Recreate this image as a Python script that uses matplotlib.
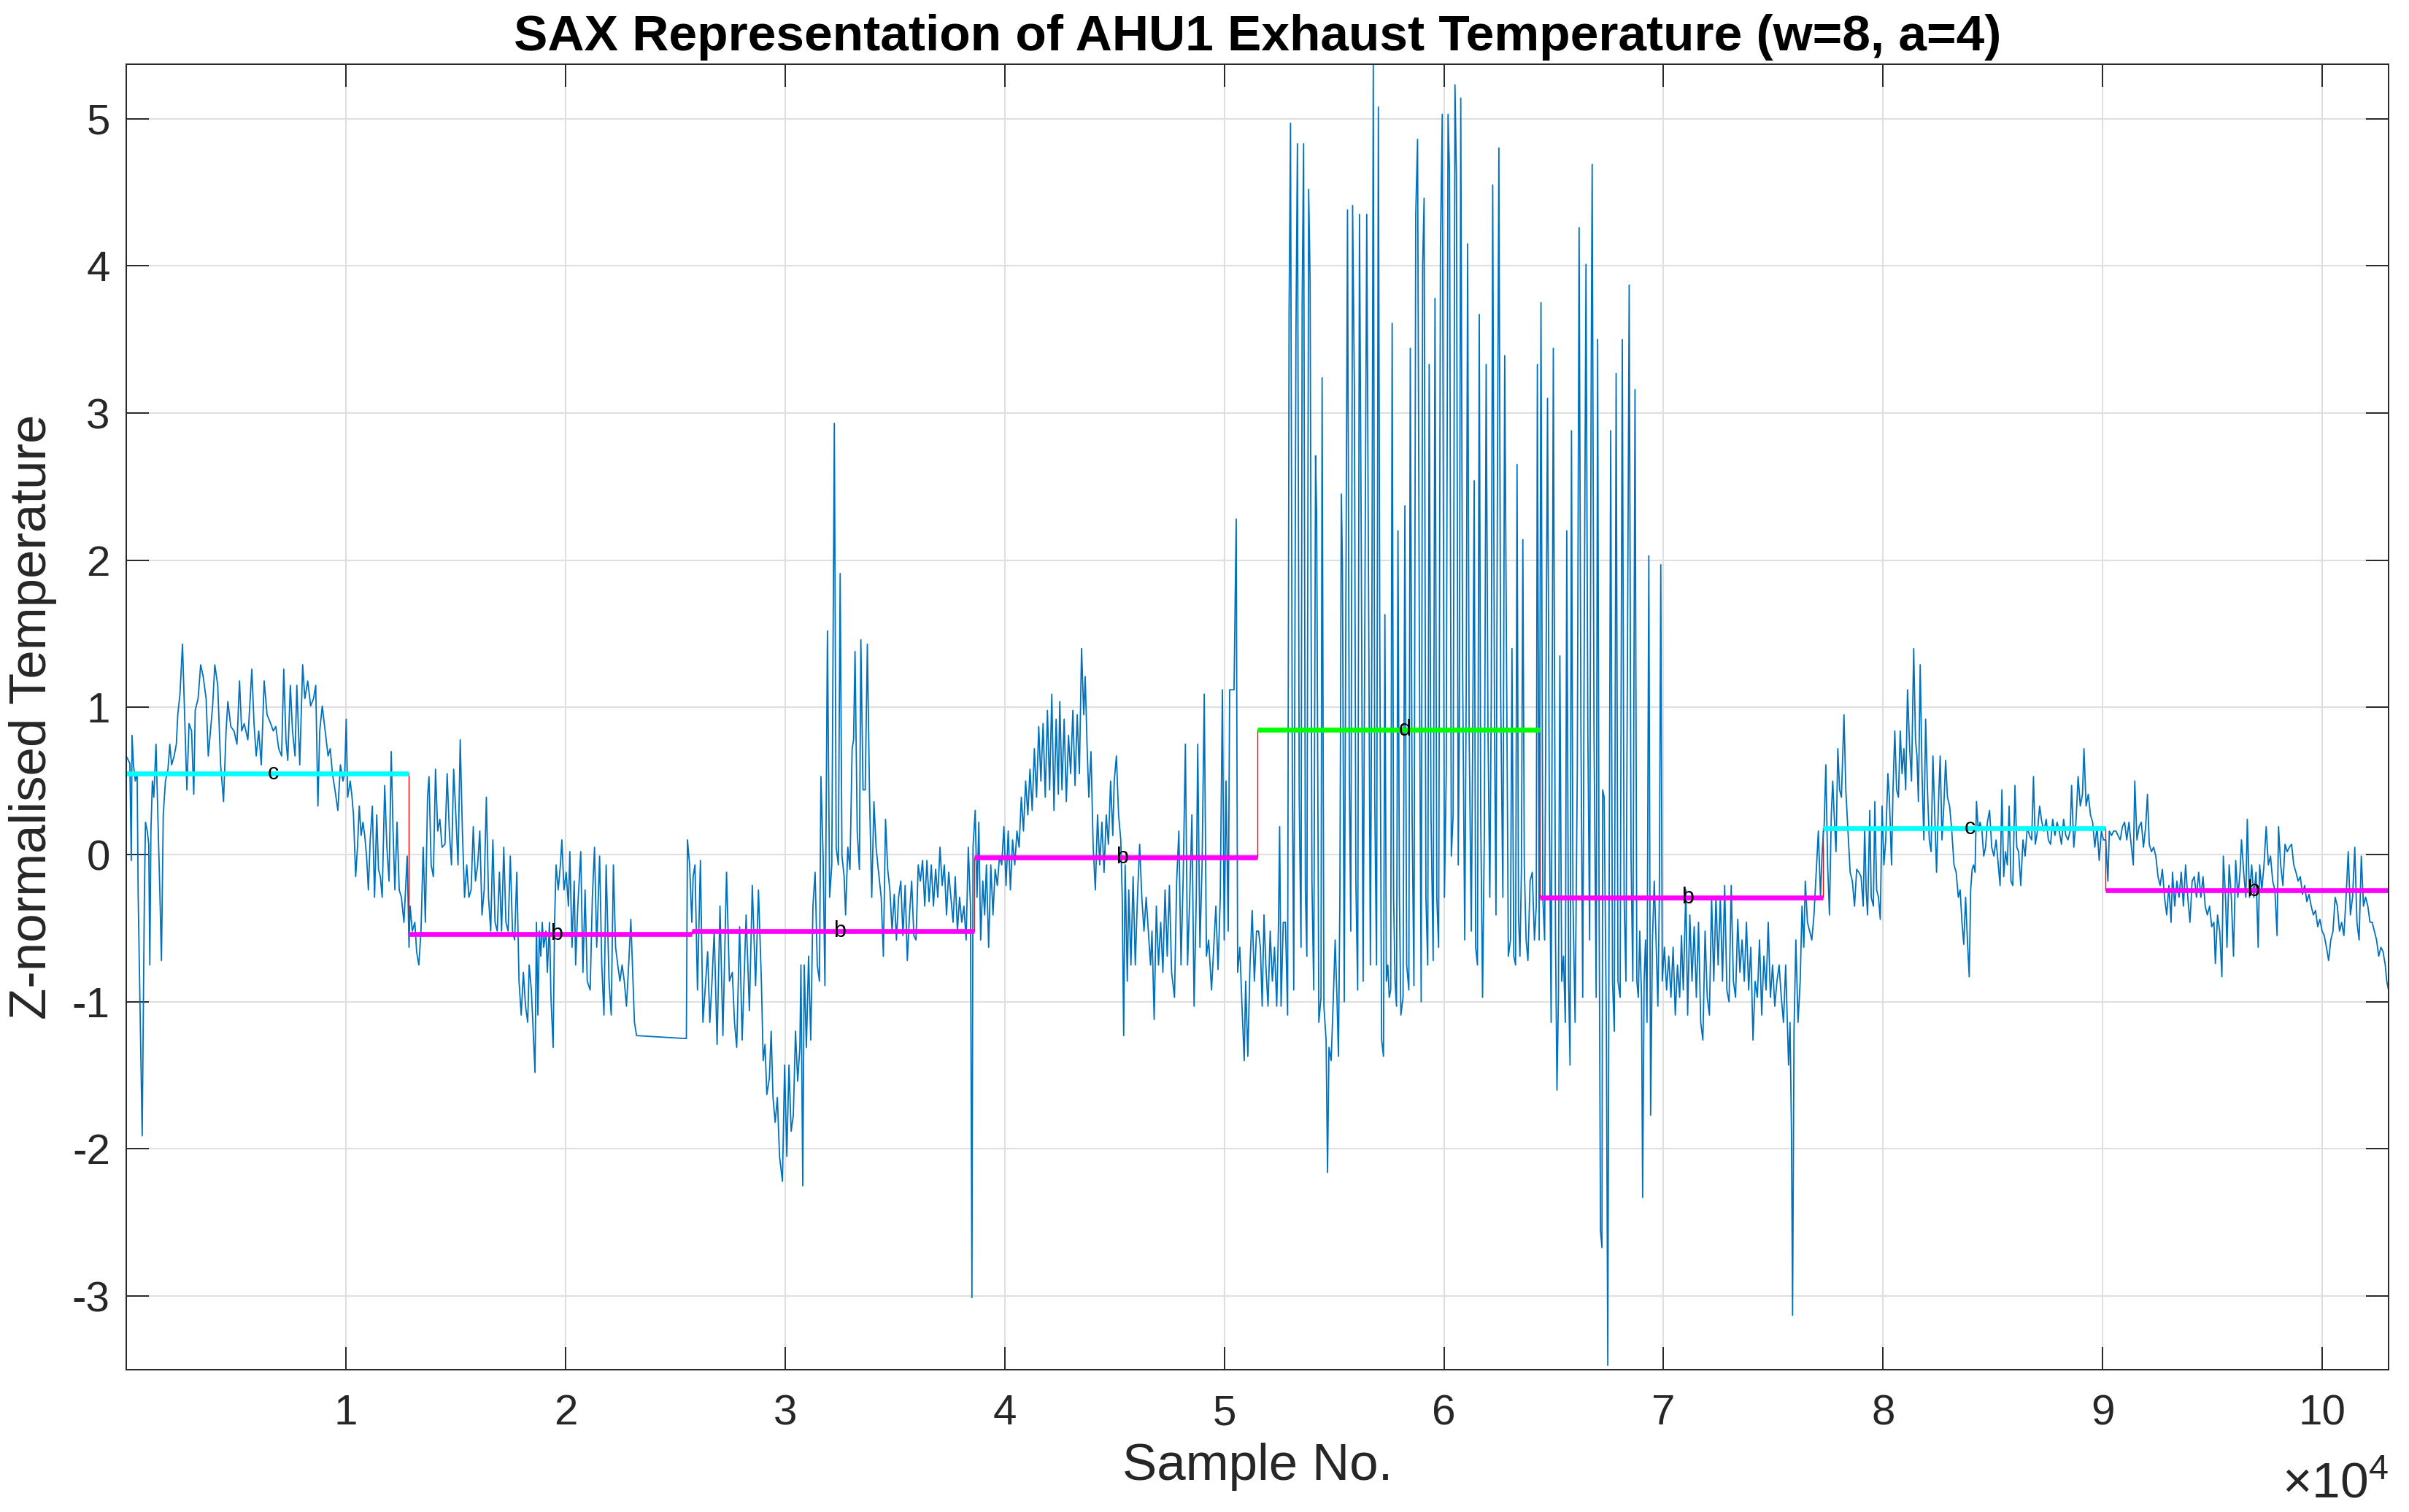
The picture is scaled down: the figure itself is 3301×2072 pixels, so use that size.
import numpy as np
import matplotlib
matplotlib.use("Agg")
import matplotlib.pyplot as plt

# (sample no., z-normalised temperature) turning points
trace_a = [
    (0, 0.67), (100, 0.64), (165, 0.62), (230, -0.04), (265, 0.81), (330, 0.61), (413, 0.50),
    (496, 0.55), (545, -0.29), (628, -1.03), (727, -1.91), (826, -0.29), (876, 0.22), (959, 0.16),
    (1025, 0.07), (1074, -0.75), (1124, 0.16), (1190, 0.50), (1256, 0.39), (1355, 0.75), (1438, 0.27),
    (1537, -0.29), (1603, -0.72), (1686, 0.27), (1785, 0.50), (1901, 0.58), (1984, 0.75), (2066, 0.61),
    (2182, 0.67), (2281, 0.75), (2347, 0.95), (2446, 1.09), (2562, 1.43), (2645, 1.01), (2761, 0.44),
    (2860, 0.89), (2975, 0.84), (3075, 0.41), (3141, 0.98), (3273, 1.06), (3389, 1.29), (3504, 1.21),
    (3637, 1.06), (3736, 0.67), (3835, 0.84), (3934, 1.01), (4033, 1.29), (4166, 1.15), (4298, 0.61),
    (4430, 0.36), (4546, 0.84), (4628, 1.04), (4761, 0.87), (4909, 0.84), (5042, 0.75), (5157, 1.18),
    (5257, 0.84), (5372, 0.89), (5538, 0.78), (5719, 1.26), (5819, 0.89), (5918, 0.67), (6033, 0.84),
    (6149, 0.61), (6281, 1.18), (6414, 0.95), (6579, 0.89), (6695, 0.84), (6810, 0.87), (6943, 0.72),
    (7075, 0.67), (7174, 1.26), (7273, 0.78), (7356, 0.64), (7472, 1.15), (7571, 0.84), (7686, 0.67),
    (7769, 1.15), (7901, 0.61), (8034, 1.29), (8133, 1.06), (8265, 1.18), (8397, 1.01), (8529, 1.06),
    (8629, 1.15), (8728, 0.33), (8810, 0.84), (8926, 1.01), (9058, 0.84), (9191, 0.67), (9290, 0.72),
    (9389, 0.55), (9505, 0.44), (9637, 0.30), (9753, 0.61), (9868, 0.50), (9951, 0.55), (10017, 0.92),
    (10083, 0.39), (10199, 0.50), (10282, 0.39), (10348, 0.27), (10447, -0.15), (10530, 0.05),
    (10612, 0.33), (10695, 0.13), (10778, 0.22), (10860, 0.13), (10943, -0.01), (11026, -0.24),
    (11108, 0.10), (11207, 0.33), (11307, -0.29), (11406, 0.27), (11488, -0.10), (11571, -0.15),
    (11654, -0.29), (11769, 0.47), (11869, 0.05), (11968, -0.18), (12067, 0.70), (12150, 0.16),
    (12232, -0.24), (12331, 0.22), (12431, -0.24), (12530, -0.29), (12645, -0.46), (12728, -0.21),
    (12794, -0.01), (12877, -0.63), (12926, -0.35), (13026, -0.52), (13141, -0.46), (13224, -0.66),
    (13323, -0.75), (13422, -0.52), (13522, 0.05), (13621, -0.46), (13720, 0.39), (13786, 0.53),
    (13885, -0.07), (13984, -0.15), (14084, 0.58), (14183, 0.16), (14282, 0.24), (14381, 0.05),
    (14513, 0.07), (14613, 0.55), (14712, 0.16), (14811, -0.07), (14910, 0.58), (15009, 0.27),
    (15108, -0.07), (15208, 0.78), (15307, 0.16), (15406, -0.29), (15505, -0.07), (15604, -0.29),
    (15704, -0.24), (15803, 0.19), (15902, -0.18), (16001, -0.07), (16100, 0.16), (16199, -0.41),
    (16299, -0.24), (16398, 0.39), (16497, -0.29), (16596, -0.52), (16695, 0.10), (16794, -0.46),
    (16894, -0.52), (16993, -0.12), (17092, -0.52), (17191, 0.05), (17290, -0.46), (17390, -0.52),
    (17489, -0.01), (17588, -0.52), (17687, -0.58), (17786, -0.12), (17886, -0.86), (17985, -1.09),
    (18084, -0.80), (18183, -1.03), (18282, -1.14), (18348, -0.75), (18447, -0.92), (18514, -1.14),
    (18613, -1.48), (18679, -0.46), (18745, -1.09), (18811, -0.52), (18877, -0.69), (18943, -0.46),
    (19010, -0.63), (19109, -0.52), (19175, -0.80), (19274, -0.46), (19340, -0.97), (19439, -1.31),
    (19505, -0.46), (19572, -0.07), (19671, -0.24), (19770, -0.07), (19836, 0.10), (19935, -0.24),
    (20034, -0.12), (20134, -0.35), (20200, 0.02), (20299, -0.63), (20398, -0.18), (20464, -0.75),
    (20563, -0.35), (20696, 0.02), (20795, -0.80), (20894, -0.24), (20993, -0.86), (21125, -0.92),
    (21225, -0.29), (21324, 0.05), (21423, -0.63), (21555, -0.01), (21654, -0.75), (21753, -1.09),
    (21853, -0.07), (21985, -0.86), (22084, -1.09), (22183, -0.07), (22283, -0.63), (22382, -0.75),
    (22481, -0.86), (22580, -0.75), (22679, -0.86), (22778, -1.03), (22878, -0.75), (22977, -0.44),
    (23076, -0.86), (23142, -1.14), (23241, -1.23), (25506, -1.25), (25555, 0.10), (25655, -0.07),
    (25754, -0.46),
]

trace_b = [
    (25814, -0.15), (25897, -0.07), (26012, -0.92), (26145, -0.04), (26260, -1.14), (26359, -0.92),
    (26475, -0.66), (26574, -1.14), (26674, -0.86), (26773, -0.52), (26905, -1.29), (27037, -0.35),
    (27169, -1.23), (27335, -0.12), (27467, -0.86), (27599, -0.80), (27698, -1.14), (27798, -1.31),
    (27930, -0.49), (28046, -1.26), (28227, -0.41), (28376, -1.06), (28508, -0.21), (28657, -0.89),
    (28789, -0.24), (28922, -0.86), (29004, -1.40), (29087, -1.29), (29170, -1.63), (29285, -1.52),
    (29368, -1.20), (29451, -1.65), (29550, -1.82), (29649, -1.65), (29748, -2.05), (29880, -2.22),
    (29980, -1.43), (30079, -2.05), (30178, -1.43), (30277, -1.88), (30376, -1.77), (30475, -1.20),
    (30575, -1.54), (30674, -1.31), (30723, -0.75), (30806, -2.25), (30872, -0.75), (30971, -1.31),
    (31071, -0.69), (31170, -1.26), (31269, -0.35), (31368, -0.12), (31467, -0.75), (31566, -0.86),
    (31633, 0.53), (31732, -0.01), (31815, -0.89), (31930, 1.52), (32029, -0.29), (32128, -0.07),
    (32244, 2.93), (32327, 0.05), (32426, -0.07), (32509, 1.91), (32591, -0.01), (32690, -0.15),
    (32757, -0.41), (32856, 0.05), (32955, -0.10), (33054, 0.72), (33120, 0.78), (33186, 1.38),
    (33286, 0.16), (33385, -0.10), (33451, 1.46), (33550, 0.44), (33649, 0.44), (33748, 1.43),
    (33848, 0.39), (33947, -0.29), (34046, 0.36), (34145, 0.05), (34244, -0.10), (34377, -0.29),
    (34476, -0.69), (34575, 0.24), (34674, -0.10), (34773, -0.24), (34872, -0.52), (34972, -0.27),
    (35071, -0.58), (35170, -0.29), (35269, -0.18), (35368, -0.55), (35468, -0.21), (35567, -0.72),
    (35666, -0.41), (35765, -0.18), (35864, -0.55), (35963, -0.58), (36063, -0.07), (36162, -0.18),
    (36261, -0.04), (36360, -0.35), (36459, -0.04), (36559, -0.32), (36658, -0.07), (36757, -0.35),
    (36856, -0.10), (36955, -0.29), (37054, 0.05), (37154, -0.21), (37253, -0.07), (37352, -0.41),
    (37451, -0.12), (37550, -0.29), (37650, -0.46), (37749, -0.15), (37848, -0.52), (37947, -0.29),
    (38046, -0.46), (38145, -0.35), (38245, -0.58), (38344, 0.05), (38443, -0.35), (38509, -3.01),
    (38559, 0.05), (38658, 0.30), (38741, -0.29), (38823, 0.22), (38906, -0.58), (39005, -0.18),
    (39088, -0.41), (39170, -0.07), (39270, -0.63), (39369, -0.07), (39468, -0.41), (39567, -0.10),
    (39666, -0.21), (39765, -0.01), (39865, -0.07), (39964, 0.19), (40063, -0.21), (40162, 0.16),
    (40261, -0.24), (40360, 0.10), (40460, -0.07), (40559, 0.16), (40658, 0.05), (40757, 0.39),
    (40856, 0.16), (40955, 0.50), (41055, 0.27), (41154, 0.58), (41253, 0.30), (41352, 0.72),
    (41451, 0.39), (41551, 0.87), (41650, 0.50), (41749, 0.89), (41848, 0.39), (41947, 0.98),
    (42047, 0.44), (42146, 1.09), (42245, 0.30), (42344, 0.92), (42443, 0.41), (42509, 1.04),
    (42609, 0.44), (42708, 0.92), (42807, 0.36), (42906, 0.81), (43005, 0.55), (43105, 0.98),
    (43204, 0.47), (43303, 0.95), (43402, 0.55), (43501, 1.40), (43601, 0.95), (43667, 1.21),
    (43766, 0.67), (43832, 0.39), (43931, 0.70), (44030, 0.05), (44129, -0.24), (44229, 0.27),
    (44328, -0.07), (44427, 0.22), (44526, -0.12), (44625, 0.27), (44724, 0.07), (44824, 0.50),
    (44923, 0.13), (44989, 0.50), (45088, 0.67), (45187, 0.27), (45287, 0.10), (45353, -0.29),
    (45419, -1.23), (45485, -0.07), (45584, -0.86), (45650, -0.24), (45749, -0.75), (45848, -0.15),
    (45948, -0.75), (46047, -0.29), (46146, 0.07), (46245, -0.29), (46344, -0.52), (46443, -0.29),
    (46543, -0.52), (46642, -0.75), (46708, -0.52), (46807, -1.12), (46906, -0.35), (47005, -0.75),
    (47105, -0.46), (47204, -0.80), (47303, -0.24), (47402, -0.69), (47501, -0.21), (47601, -0.80),
    (47733, -0.97), (47832, -0.18), (47931, 0.16), (48030, -0.75), (48130, -0.15), (48229, 0.75),
    (48328, -0.75), (48427, -0.29), (48526, 0.27), (48625, -1.03), (48725, -0.29), (48791, 0.75),
    (48890, -0.63), (48989, -0.07), (49088, 1.09), (49187, -0.69), (49287, -0.58), (49419, -0.92),
    (49518, -0.63), (49617, -0.35), (49716, -0.78), (49816, -0.29), (49915, 1.12), (49997, -0.58),
    (50080, 0.50), (50179, -0.52), (50245, 1.12), (50444, 1.12), (50543, 2.28), (50609, -0.80),
    (50708, -0.63), (50807, -1.03), (50907, -1.40), (50973, -0.86), (51072, -1.37), (51171, -0.75),
    (51270, -0.38), (51370, -0.86), (51469, -0.52),
]

trace_c = [
    (51561, -0.52), (51644, -0.63), (51726, -1.03), (51809, -0.41), (51892, -0.75), (51991, -1.03),
    (52090, -0.52), (52189, -0.86), (52288, -0.63), (52388, -1.03), (52470, -0.46), (52520, 0.19),
    (52586, -1.03), (52685, -0.46), (52784, -0.46), (52883, -1.09), (52950, 3.67), (53016, 4.97),
    (53098, 0.55), (53164, -0.92), (53264, 3.56), (53330, 4.83), (53412, 0.39), (53495, -0.63),
    (53545, 3.73), (53611, 4.83), (53693, -0.24), (53760, -0.69), (53842, 4.52), (53908, 3.90),
    (53991, -0.18), (54074, -0.92), (54156, 2.71), (54206, 2.31), (54305, -1.14), (54404, -0.97),
    (54454, 3.24), (54536, -1.03), (54636, -1.26), (54702, -2.16), (54768, -1.31), (54867, -1.40),
    (54966, -0.97), (55049, -0.58), (55131, -0.97), (55198, -1.37), (55264, -0.29), (55330, 2.45),
    (55380, 1.97), (55462, -1.00), (55545, 1.97), (55611, 4.38), (55694, 0.55), (55760, -0.52),
    (55843, 4.41), (55925, 3.16), (55991, -0.18), (56074, -0.92), (56156, 4.35), (56239, 2.08),
    (56322, -0.86), (56404, 1.74), (56487, 4.35), (56570, 1.80), (56652, -0.75), (56718, 1.40),
    (56785, 5.37), (56851, 0.39), (56933, -0.75), (57016, 5.08), (57082, 1.40), (57165, -1.26),
    (57248, -1.37), (57313, 1.63), (57380, -0.86), (57446, -0.75), (57512, -0.97), (57578, -0.92),
    (57644, 3.61), (57710, -0.29), (57776, -0.86), (57842, -1.03), (57909, 2.20), (57975, -0.29),
    (58041, -1.09), (58140, -0.97), (58223, 2.37), (58305, -0.75), (58404, -0.92), (58470, 3.44),
    (58553, 0.27), (58636, -0.89), (58718, 4.35), (58801, 4.86), (58884, 1.40), (58966, -1.00),
    (59033, 4.01), (59099, 4.46), (59181, -0.29), (59264, -0.75), (59330, 3.33), (59413, 0.27),
    (59512, -0.72), (59595, 3.78), (59677, -0.29), (59760, -0.63), (59843, 4.12), (59925, 5.03),
    (60024, -0.29), (60107, 0.55), (60190, 5.03), (60256, 4.63), (60338, -0.01), (60421, 0.27),
    (60504, 5.23), (60570, 4.63), (60653, -0.07), (60702, 0.84), (60768, 5.14), (60851, 1.29),
    (60950, -0.58), (61016, 1.12), (61082, 4.15), (61149, 0.84), (61248, -0.52), (61314, 0.84),
    (61380, 2.54), (61446, -0.63), (61529, -0.75), (61611, 3.67), (61677, 0.27), (61760, -0.97),
    (61843, 0.16), (61925, 3.33), (62008, 0.84), (62091, -0.29), (62157, 1.06), (62223, 4.55),
    (62306, 0.84), (62372, -0.41), (62438, 2.54), (62504, 4.80), (62587, 1.06), (62686, -0.29),
    (62769, 3.39), (62851, 1.40), (62934, -0.69), (63033, -0.58), (63099, 1.40), (63182, -0.69),
    (63265, -0.75), (63331, 2.65), (63397, -0.41), (63463, -0.69), (63529, -0.12), (63595, 2.14),
    (63661, -0.07), (63744, -0.58), (63826, -0.72), (63925, -0.18), (64025, -0.12), (64124, -0.58),
    (64206, -0.35), (64256, 3.33), (64339, -0.58), (64421, 3.75), (64504, -0.29), (64587, -0.58),
    (64719, 3.10), (64802, 0.27), (64884, -1.14), (64983, 3.44), (65083, -0.58), (65149, -1.60),
    (65215, -0.97), (65281, 1.35), (65364, -0.86), (65446, -0.69), (65529, -1.14), (65595, 2.20),
    (65678, -0.86), (65744, -1.43), (65810, 2.88), (65876, -0.29), (65975, -1.14), (66074, 0.55),
    (66157, 4.26), (66240, 0.84), (66322, -0.97), (66405, 1.97), (66471, 4.01), (66554, 0.84),
    (66636, -0.58), (66703, 3.10), (66752, 4.69), (66835, 0.84), (66934, -0.97), (67000, 3.50),
    (67066, -0.29), (67132, -2.56), (67198, -2.67), (67231, 0.44), (67297, 0.39), (67397, -1.14),
    (67463, -3.47), (67512, -0.86), (67595, 2.88), (67678, -0.86), (67760, -1.20), (67843, 3.27),
    (67926, -0.86), (68025, -0.97), (68124, 3.50), (68207, -0.29), (68289, -0.86), (68372, 1.74),
    (68438, 3.87), (68521, -0.01), (68603, -0.86), (68703, 3.16), (68786, -0.86), (68852, -0.97),
    (68918, -0.52), (69000, -0.97), (69050, -2.33), (69116, -0.86), (69182, -0.58), (69248, -1.14),
    (69331, 2.03), (69413, -1.77), (69496, -0.58), (69579, -0.18), (69661, -0.58), (69744, -1.03),
    (69810, -0.29), (69876, 1.97), (69943, -0.86), (70042, -0.63), (70141, -0.92), (70240, -0.69),
    (70339, -0.97), (70438, -0.63), (70537, -1.09), (70637, -0.75), (70736, -0.97), (70818, -0.55),
    (70901, -0.92), (71017, -0.24), (71099, -1.09), (71198, -0.41), (71298, -0.86), (71397, -0.49),
    (71496, -0.97), (71595, -0.46), (71694, -1.14), (71793, -1.26), (71893, -0.52), (71992, -0.97),
    (72091, -1.09), (72190, -0.29), (72289, -0.86), (72389, -0.29), (72488, -0.75), (72587, -0.29),
    (72686, -0.86), (72785, -0.21), (72885, -0.92), (72984, -1.00), (73083, -0.21), (73182, -0.86),
    (73281, -0.97), (73381, -0.44), (73480, -0.80), (73579, -0.58), (73678, -0.86), (73777, -0.46),
    (73877, -0.92), (73976, -0.63), (74075, -1.26), (74174, -0.86), (74273, -0.97), (74372, -0.58),
    (74472, -1.09), (74571, -0.69), (74670, -0.92), (74769, -0.46), (74868, -0.97), (74967, -0.75),
    (75067, -1.03), (75166, -0.86), (75265, -0.75), (75364, -0.97), (75463, -1.14), (75563, -0.75),
    (75629, -1.09), (75695, -1.43), (75761, -1.14), (75827, -1.88), (75877, -3.13), (75943, -1.20),
    (76026, -0.58), (76125, -1.14), (76224, -0.86), (76307, -0.35), (76390, -0.63), (76456, -0.18),
    (76555, -0.46), (76654, -0.52), (76753, -0.58), (76852, -0.41), (76952, -0.12), (77051, 0.16),
    (77150, -0.29), (77216, -0.01), (77282, 0.16),
]

trace_d = [
    (77309, 0.16), (77392, 0.61), (77474, -0.07), (77557, -0.41), (77640, 0.27), (77706, 0.50),
    (77772, 0.27), (77855, 0.02), (77937, 0.72), (78020, 0.44), (78102, 0.39), (78218, 0.95),
    (78301, 0.44), (78400, 0.16), (78499, -0.12), (78598, -0.18), (78698, -0.35), (78797, -0.10),
    (78896, -0.12), (78995, -0.15), (79094, -0.35), (79160, 0.19), (79226, -0.24), (79293, -0.41),
    (79392, 0.30), (79458, -0.29), (79557, -0.35), (79623, 0.36), (79706, -0.24), (79789, -0.29),
    (79871, -0.44), (79954, 0.33), (80036, -0.07), (80119, 0.10), (80218, 0.55), (80284, 0.39),
    (80383, -0.07), (80450, 0.44), (80532, 0.84), (80615, 0.44), (80698, 0.39), (80780, 0.84),
    (80863, 0.55), (80946, 0.72), (81028, 0.44), (81111, 1.12), (81210, 0.72), (81293, 0.50),
    (81392, 1.40), (81475, 0.78), (81541, 0.67), (81607, 0.36), (81689, 1.29), (81772, 0.55),
    (81855, 0.10), (81937, 0.92), (82020, 0.44), (82103, 0.10), (82185, 0.02), (82268, 0.67),
    (82351, 0.27), (82433, -0.12), (82516, 0.33), (82599, 0.67), (82681, 0.10), (82764, 0.33),
    (82847, 0.64), (82929, 0.39), (83028, 0.33), (83128, 0.16), (83227, -0.07), (83326, -0.12),
    (83425, -0.29), (83508, -0.24), (83590, -0.46), (83673, -0.61), (83756, -0.29), (83838, -0.58),
    (83921, -0.83), (83987, -0.24), (84053, -0.10), (84119, -0.07), (84186, -0.12), (84252, 0.36),
    (84334, 0.16), (84417, 0.22), (84500, 0.16), (84582, -0.01), (84665, 0.05), (84748, 0.22),
    (84847, 0.30), (84946, 0.05), (85045, -0.01), (85144, 0.10), (85243, -0.07), (85326, -0.21),
    (85409, 0.44), (85491, -0.15), (85574, 0.02), (85657, -0.07), (85739, 0.33), (85822, -0.18),
    (85905, -0.21), (86004, 0.47), (86087, 0.05), (86169, 0.02), (86268, -0.21), (86367, 0.10),
    (86467, -0.01), (86566, 0.19), (86665, 0.13), (86764, 0.10), (86847, 0.53), (86929, 0.07),
    (87029, 0.16), (87128, 0.33), (87227, 0.22), (87326, 0.16), (87425, 0.24), (87525, 0.10),
    (87624, 0.07), (87723, 0.24), (87822, 0.13), (87921, 0.22), (88020, 0.16), (88120, 0.07),
    (88219, 0.24), (88318, 0.13), (88417, 0.10), (88516, 0.16), (88583, 0.47), (88682, 0.05),
    (88781, 0.22), (88880, 0.53), (88979, 0.33), (89078, 0.41), (89145, 0.72), (89244, 0.33),
    (89343, 0.41), (89442, 0.27), (89541, 0.22), (89640, 0.05), (89740, 0.19), (89839, -0.04),
    (89938, 0.16), (90037, 0.10), (90136, 0.10), (90235, -0.18), (90301, 0.16), (90401, 0.13),
    (90500, 0.16), (90599, 0.16), (90698, 0.13), (90797, 0.10), (90897, 0.19), (90996, 0.22),
    (91095, 0.10), (91194, 0.22), (91293, 0.07), (91393, -0.07), (91459, 0.50), (91558, 0.10),
    (91657, 0.19), (91756, 0.22), (91855, 0.05), (91955, 0.19), (92037, 0.41), (92120, 0.07),
    (92219, 0.02), (92318, 0.05), (92418, -0.01), (92517, -0.15), (92616, -0.21), (92715, -0.10),
    (92814, -0.29), (92914, -0.41), (93013, -0.21), (93112, -0.46), (93178, -0.12), (93277, -0.35),
    (93377, -0.18), (93476, -0.29), (93575, -0.12), (93674, -0.35), (93773, -0.07), (93873, -0.29),
    (93972, -0.46), (94071, -0.18), (94170, -0.15), (94269, -0.29), (94369, -0.12), (94468, -0.29),
    (94567, -0.15), (94666, -0.35), (94765, -0.41), (94865, -0.35), (94964, -0.49), (95063, -0.46),
    (95129, -0.74), (95228, -0.41), (95327, -0.52), (95426, -0.83), (95492, -0.01), (95592, -0.29),
    (95658, -0.63), (95757, -0.07), (95856, -0.29), (95955, -0.69), (96054, -0.04), (96154, -0.29),
    (96253, -0.12), (96319, 0.10), (96418, -0.12), (96517, -0.29), (96583, 0.24), (96683, -0.29),
    (96782, -0.07), (96881, -0.29), (96980, -0.12), (97079, -0.63), (97145, -0.07), (97244, -0.24),
    (97344, -0.07), (97443, 0.19), (97542, -0.07), (97641, -0.01), (97740, -0.18), (97840, -0.24),
    (97939, -0.55), (98005, 0.19), (98104, -0.07), (98203, -0.21), (98302, 0.07), (98401, 0.02),
    (98501, 0.05), (98600, 0.07), (98699, -0.07), (98798, -0.12), (98897, -0.18), (98997, -0.15),
    (99096, -0.27), (99195, -0.21), (99294, -0.32), (99393, -0.27), (99493, -0.35), (99592, -0.41),
    (99691, -0.38), (99790, -0.49), (99889, -0.44), (99989, -0.52), (100088, -0.55), (100187, -0.63),
    (100286, -0.72), (100385, -0.58), (100485, -0.52), (100584, -0.29), (100683, -0.35),
    (100782, -0.52), (100881, -0.46), (100981, -0.55), (101080, -0.29), (101179, 0.02),
    (101278, -0.41), (101377, -0.29), (101477, 0.05), (101576, -0.46), (101675, -0.58),
    (101774, -0.01), (101873, -0.35), (101973, -0.29), (102072, -0.35), (102171, -0.46),
    (102270, -0.46), (102369, -0.52), (102469, -0.58), (102568, -0.69), (102667, -0.63),
    (102766, -0.66), (102865, -0.75), (102932, -0.86), (103014, -0.92),
]

# SAX word (w=8, a=4) and the segment means
sax_letters = ["c", "b", "b", "b", "d", "b", "c", "b"]
sax_levels = [0.55, -0.54, -0.52, -0.02, 0.85, -0.29, 0.18, -0.24]
letter_colors = {"a": "#0000ff", "b": "#ff00ff", "c": "#00ffff", "d": "#00ff00"}

x_ticks = [10000 * k for k in range(1, 11)]
x_tick_labels = [str(k) for k in range(1, 11)]
y_ticks = [-3, -2, -1, 0, 1, 2, 3, 4, 5]
y_tick_labels = ["-3", "-2", "-1", "0", "1", "2", "3", "4", "5"]


def main():
    plt.rcParams["font.family"] = ["Liberation Sans", "DejaVu Sans"]
    plt.rcParams["mathtext.fontset"] = "custom"
    plt.rcParams["mathtext.rm"] = "Liberation Sans"
    plt.rcParams["mathtext.it"] = "Liberation Sans"

    signal = np.array(trace_a + trace_b + trace_c + trace_d)
    samples, temps = signal[:, 0], signal[:, 1]
    n = samples[-1]
    edges = np.linspace(0, n, len(sax_levels) + 1)

    ink = "#262626"
    fig = plt.figure(figsize=(33.01, 20.72), dpi=100)
    ax = fig.add_axes([0.0524, 0.0941, 0.9391, 0.8634])

    ax.plot(samples, temps, color="#0072bd", lw=1.3)
    ax.stairs(sax_levels, edges, baseline=None, color="red", lw=1.0)
    for i, (letter, level) in enumerate(zip(sax_letters, sax_levels)):
        ax.plot(edges[i:i + 2], [level, level], color=letter_colors[letter], lw=4.8,
                solid_capstyle="butt")
        mid = (edges[i] + edges[i + 1]) / 2
        ax.text(mid, level, letter, fontsize=22, ha="left", va="center", color="black")

    ax.set_xlim(0, n)
    ax.set_ylim(-3.50, 5.37)
    ax.set_xticks(x_ticks)
    ax.set_xticklabels(x_tick_labels)
    ax.set_yticks(y_ticks)
    ax.set_yticklabels(y_tick_labels)

    ax.grid(True, color="#dfdfdf", lw=1.5)
    ax.set_axisbelow(True)
    ax.tick_params(direction="in", length=22, width=1.4, colors=ink, labelsize=42,
                   top=True, right=True)
    ax.tick_params(axis="x", pad=24)
    ax.tick_params(axis="y", pad=16)
    for spine in ax.spines.values():
        spine.set_color(ink)
        spine.set_linewidth(1.4)

    ax.set_title("SAX Representation of AHU1 Exhaust Temperature (w=8, a=4)",
                 fontsize=50, fontweight="bold", pad=14, color="black")
    ax.set_xlabel("Sample No.", fontsize=51, color=ink)
    ax.set_ylabel("Z-normalised Temperature", fontsize=51, color=ink)
    ax.xaxis.set_label_coords(0.5, -0.0560)
    ax.yaxis.set_label_coords(-0.0306, 0.5)
    ax.text(1.0, -0.0978, r"$\times10^{4}$", transform=ax.transAxes, ha="right",
            va="baseline", fontsize=50, color=ink)

    fig.savefig("out.png", dpi=100)


if __name__ == "__main__":
    main()
